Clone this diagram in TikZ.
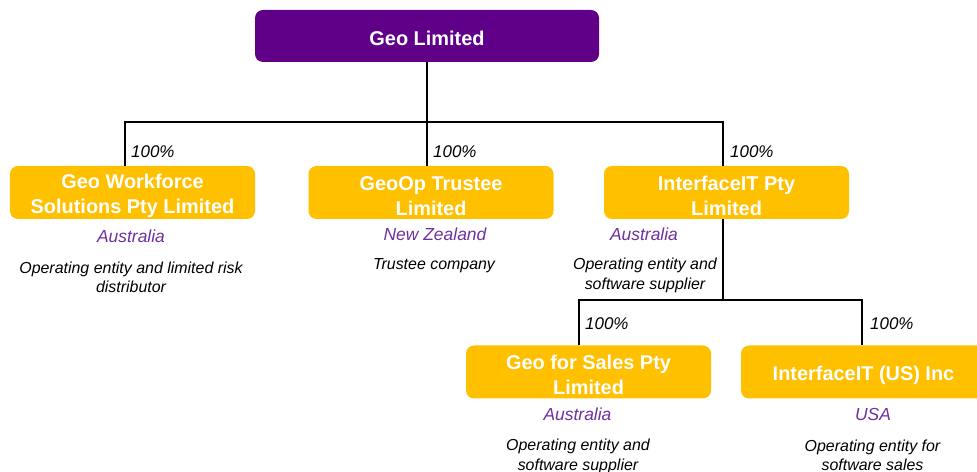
\documentclass[tikz,border=0pt]{standalone}
\usepackage{fontspec}
\setmainfont{Liberation Sans}
\usepackage{tikz}
\usetikzlibrary{positioning, calc}
\definecolor{geopurple}{RGB}{96,0,137}
\definecolor{geogold}{RGB}{255,192,0}
\definecolor{ctrypurple}{RGB}{112,48,160}
\tikzset{
  topbox/.style={rectangle, fill=geopurple, text=white, align=center,
    minimum width=344bp, minimum height=52bp, inner sep=0pt,
    font=\fontsize{20}{25}\selectfont\bfseries, rounded corners=8bp,
    execute at begin node={\rule{0pt}{19bp}}},
  subbox/.style={rectangle, fill=geogold, text=white, align=center,
    minimum width=245bp, minimum height=53bp, inner sep=0pt,
    font=\fontsize{20}{25}\selectfont\bfseries, rounded corners=8bp,
    execute at begin node={\rule{0pt}{20.5bp}}},
  subbox2/.style={subbox, execute at begin node={\rule{0pt}{45.5bp}}},
  pct/.style={anchor=west, inner sep=0pt, font=\fontsize{17}{20}\selectfont\itshape},
  country/.style={inner sep=0pt, text=ctrypurple, font=\fontsize{17.5}{21}\selectfont\itshape},
  note/.style={inner sep=0pt, align=center, font=\fontsize{16}{19.5}\selectfont\itshape},
  line/.style={line width=1.5bp, color=black}
}

\begin{document}
\begin{tikzpicture}[x=1bp, y=-1bp]
  \useasboundingbox (0,0) rectangle (977,472);

  % holding company
  \node[topbox] (geo) at (427,36) {Geo Limited};

  % first tier subsidiaries
  \node[subbox2] (wfs) at (132.5,192.5) {Geo Workforce\\Solutions Pty Limited};
  \node[subbox2] (trustee) at (431,192.5) {GeoOp Trustee\\Limited};
  \node[subbox2] (itp) at (726.5,192.5) {InterfaceIT Pty\\Limited};

  % second tier, under InterfaceIT
  \node[subbox2] (gfs) at (588.5,372) {Geo for Sales Pty\\Limited};
  \node[subbox] (itus) at (863.5,372) {InterfaceIT (US) Inc};

  % ownership lines
  \draw[line] (geo.south) -- ++(0,60) coordinate (bus1);
  \draw[line] ([xshift=-7.5bp]wfs.north) |- (bus1);
  \draw[line] (bus1) -- (bus1 |- trustee.north);
  \draw[line] ([xshift=-3.5bp]itp.north) |- (bus1);
  \draw[line] ([xshift=-3.5bp]itp.south) -- ++(0,81) coordinate (bus2);
  \draw[line] ([xshift=-9.5bp]gfs.north) |- (bus2);
  \draw[line] ([xshift=-1.5bp]itus.north) |- (bus2);

  % shareholdings
  \node[pct] (p1) at (131,152) {100\%};
  \node[pct] (p2) at (433,152) {100\%};
  \node[pct] (p3) at (730,152) {100\%};
  \node[pct] (p4) at (585,324) {100\%};
  \node[pct] (p5) at (870,324) {100\%};

  % countries
  \node[country] (wfsc) at (131,236) {Australia};
  \node[country] (trusteec) at (435,234) {New Zealand};
  \node[country] (itpc) at (644,234) {Australia};
  \node[country] (gfsc) at (577.5,414) {Australia};
  \node[country] (itusc) at (873,414) {USA};

  % roles
  \node[note] (wfsn) at (131,277.5) {Operating entity and limited risk\\distributor};
  \node[note] (trusteen) at (434,266) {Trustee company};
  \node[note] (itpn) at (645,275.5) {Operating entity and\\software supplier};
  \node[note] (gfsn) at (578,456.5) {Operating entity and\\software supplier};
  \node[note] (itusn) at (872.5,455.5) {Operating entity for\\software sales};
\end{tikzpicture}
\end{document}
